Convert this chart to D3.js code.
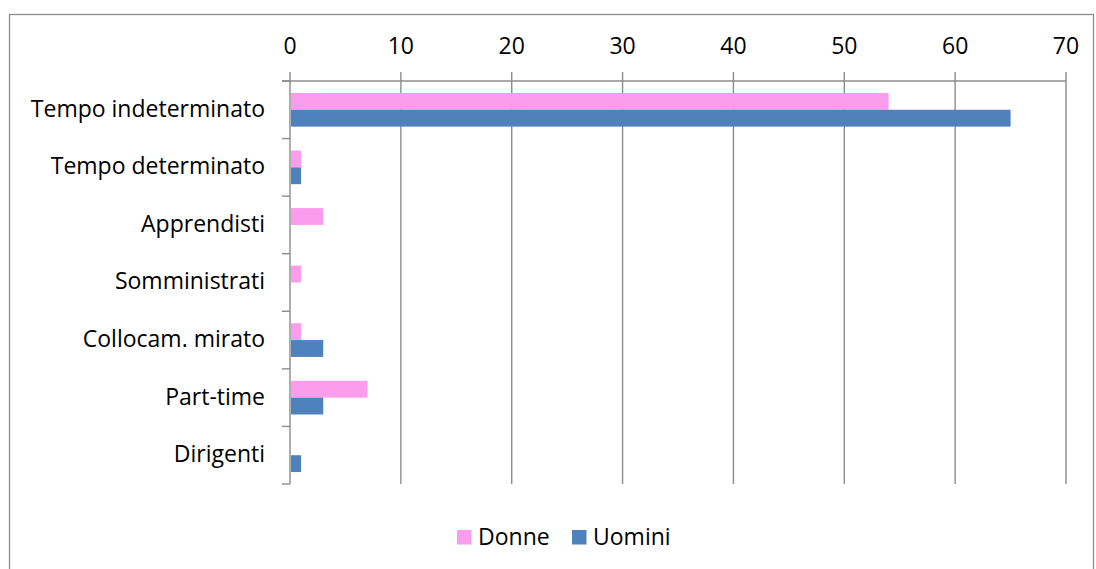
<!DOCTYPE html>
<html><head><meta charset="utf-8">
<script src="https://cdn.jsdelivr.net/npm/d3@7"></script>
<style>body{margin:0;background:#fff}svg{display:block}text{font-family:"Open Sans",sans-serif;fill:#000}</style>
</head><body><svg id="c" width="1096" height="569"></svg>
<script>
const categories = ["Tempo indeterminato","Tempo determinato","Apprendisti","Somministrati","Collocam. mirato","Part-time","Dirigenti"];
const seriesNames = ["Donne","Uomini"];
const donne = [54,1,3,1,1,7,0];
const uomini = [65,1,0,0,3,3,1];
const xTicks = [0,10,20,30,40,50,60,70];
const colors = ["#FA9DEC","#4F81BD"];

const svg = d3.select("#c");
const fs = 23;
svg.append("rect").attr("x",9.5).attr("y",14.5).attr("width",1084).attr("height",580)
  .attr("fill","#fff").attr("stroke","#8c8c8c").attr("stroke-width",1.3);

const L=290,R=1066,T=81,B=484;
const x = d3.scaleLinear().domain([0,70]).range([L,R]);
const y = d3.scaleBand().domain(categories).range([T,B]);
const inner = d3.scaleBand().domain(seriesNames).range([0,y.bandwidth()]).paddingInner(0).paddingOuter(0.71);

const grid = "#8c8c8c";
svg.append("g").selectAll("line").data(xTicks).join("line")
  .attr("x1",d=>x(d)).attr("x2",d=>x(d)).attr("y1",T-9).attr("y2",B)
  .attr("stroke",grid).attr("stroke-width",1.4);
svg.append("line").attr("x1",L-8).attr("x2",R).attr("y1",T).attr("y2",T).attr("stroke",grid).attr("stroke-width",1.4);
const catEdges = categories.map(c=>y(c)).concat([B]);
svg.append("g").selectAll("line").data(catEdges).join("line")
  .attr("x1",L-8).attr("x2",L).attr("y1",d=>d).attr("y2",d=>d).attr("stroke",grid).attr("stroke-width",1.4);

const data = [donne,uomini];
data.forEach((arr,si)=>{
  svg.append("g").selectAll("rect").data(arr).join("rect")
    .attr("x",x(0)+1).attr("y",(d,i)=>y(categories[i])+inner(seriesNames[si]))
    .attr("width",d=>Math.max(0,x(d)-x(0)-1)).attr("height",inner.bandwidth())
    .attr("fill",colors[si]);
});
svg.append("g").selectAll("text").data(xTicks).join("text")
  .attr("x",d=>x(d)).attr("y",54).attr("text-anchor","middle").attr("font-size",fs).text(d=>d);
svg.append("g").selectAll("text").data(categories).join("text")
  .attr("x",265).attr("y",d=>y(d)+y.bandwidth()/2).attr("dy","0.3em").attr("text-anchor","end")
  .attr("font-size",fs).text(d=>d);
const lg = svg.append("g");
const lx=[457,572];
seriesNames.forEach((s,i)=>{
  lg.append("rect").attr("x",lx[i]).attr("y",530).attr("width",14.5).attr("height",14.5).attr("fill",colors[i]);
  lg.append("text").attr("x",lx[i]+21).attr("y",545).attr("font-size",fs).text(s);
});
</script></body></html>
